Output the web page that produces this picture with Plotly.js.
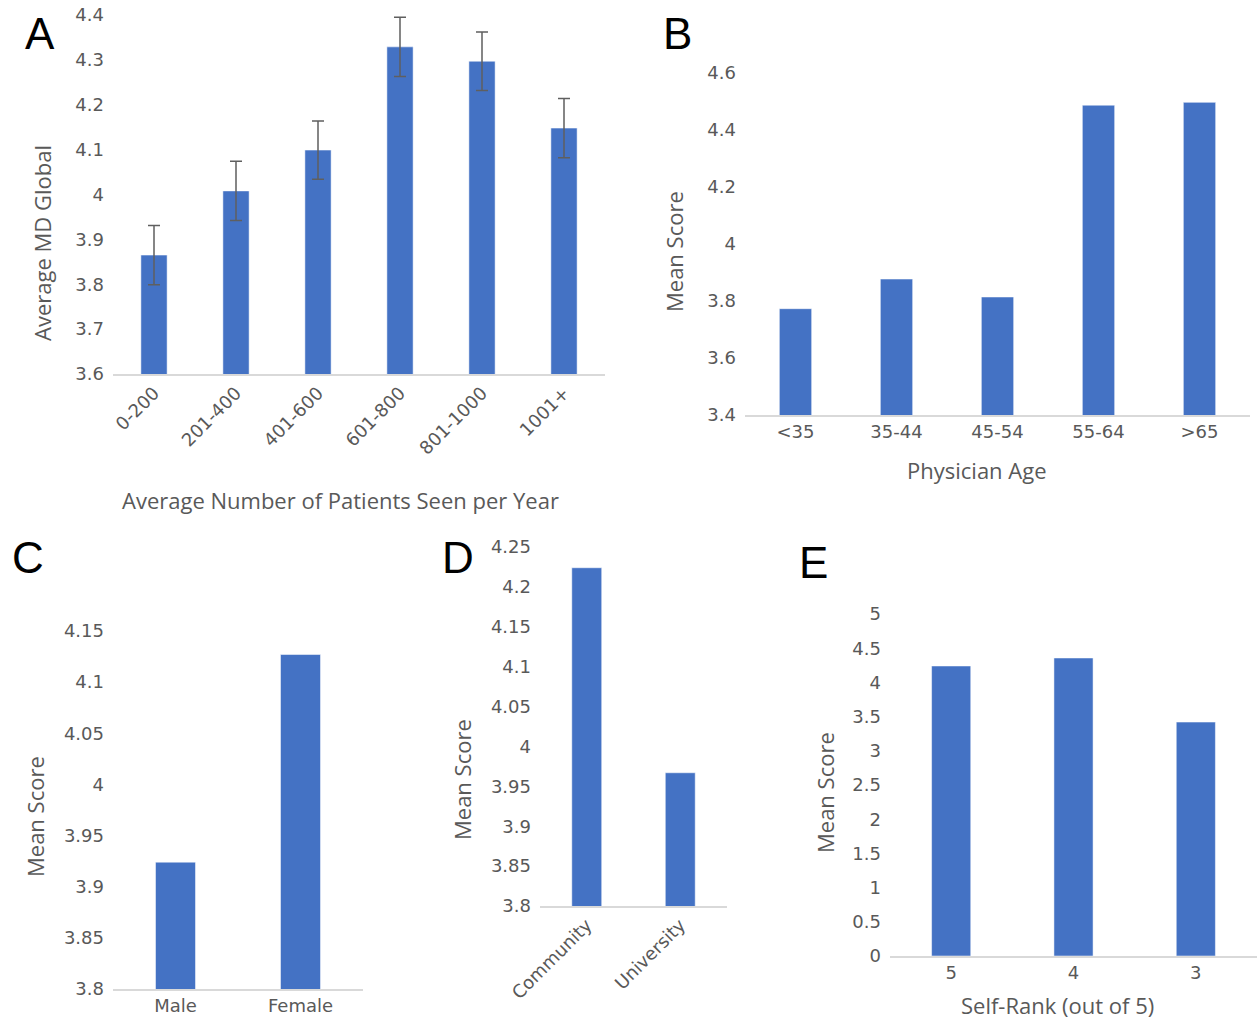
<!DOCTYPE html>
<html><head><meta charset="utf-8">
<script src="https://cdn.plot.ly/plotly-3.0.1.min.js"></script>
<style>html,body{margin:0;padding:0;background:#fff}#chart{width:1257px;height:1024px}</style>
</head><body><div id="chart"></div>
<script>
// Panel A
const patientsCategories = ["0-200", "201-400", "401-600", "601-800", "801-1000", "1001+"];
const patientsMeans = [3.865, 4.008, 4.099, 4.329, 4.297, 4.148];
const patientsErrors = [0.066, 0.066, 0.065, 0.066, 0.065, 0.066];
// Panel B
const ageCategories = ["<35", "35-44", "45-54", "55-64", ">65"];
const ageMeans = [3.773, 3.877, 3.814, 4.487, 4.497];
// Panel C
const genderCategories = ["Male", "Female"];
const genderMeans = [3.924, 4.127];
// Panel D
const practiceCategories = ["Community", "University"];
const practiceMeans = [4.224, 3.967];
// Panel E
const selfRankCategories = ["5", "4", "3"];
const selfRankMeans = [4.24, 4.357, 3.42];

const W = 1257, H = 1024;
const px = v => v / W;
const py = v => 1 - v / H;
const barColor = "#4472C4";
const tickFont = {family: "DejaVu Sans", size: 18, color: "#595959"};
const titleFont = {family: "Open Sans", size: 22, color: "#595959"};

function bar(x, y, xa, ya, err) {
  const t = {type: "bar", x: x, y: y, xaxis: xa, yaxis: ya,
    marker: {color: barColor, line: {color: "#ffffff", width: 0.5}}, showlegend: false};
  if (err) t.error_y = {type: "data", array: err, visible: true, color: "#5f5f5f", thickness: 1.5, width: 6};
  return t;
}

const data = [
  bar(patientsCategories, patientsMeans, "x", "y", patientsErrors),
  bar(ageCategories, ageMeans, "x2", "y2"),
  bar(genderCategories, genderMeans, "x3", "y3"),
  bar(practiceCategories, practiceMeans, "x4", "y4"),
  bar(selfRankCategories, selfRankMeans, "x5", "y5")
];

function xax(d, anchor, angle) {
  return {domain: d, anchor: anchor, type: "category", showline: true, linecolor: "#d9d9d9",
    linewidth: 1.5, ticks: "", showgrid: false, zeroline: false, tickfont: tickFont, tickangle: angle};
}
function yax(d, anchor, range, dtick) {
  return {domain: d, anchor: anchor, range: range, dtick: dtick, tick0: range[0], showline: false, ticks: "",
    showgrid: false, zeroline: false, tickfont: tickFont, ticklabelstandoff: 8};
}

// axis titles: [text, x, y, angle]
const axisTitles = [
  ["Average Number of Patients Seen per Year", 340, 500, 0],
  ["Average MD Global", 42, 243, -90],
  ["Physician Age", 977, 470, 0],
  ["Mean Score", 674, 252, -90],
  ["Mean Score", 35, 817, -90],
  ["Mean Score", 462, 780, -90],
  ["Self-Rank (out of 5)", 1057, 1005, 0],
  ["Mean Score", 825, 793, -90]
];
const panelLetters = [["A", 40, 33], ["B", 677, 33], ["C", 28, 557], ["D", 458, 557], ["E", 813, 562]];

const layout = {
  width: W, height: H, margin: {l: 0, r: 0, t: 0, b: 0},
  paper_bgcolor: "#fff", plot_bgcolor: "#fff", bargap: 0.68,
  font: {family: "DejaVu Sans", color: "#595959"},
  xaxis: xax([px(113), px(605)], "y", -45),
  yaxis: yax([py(374), py(15)], "x", [3.6, 4.4], 0.1),
  xaxis2: xax([px(745), px(1250)], "y2", 0),
  yaxis2: yax([py(415), py(73)], "x2", [3.4, 4.6], 0.2),
  xaxis3: xax([px(113), px(363)], "y3", 0),
  yaxis3: yax([py(989), py(631)], "x3", [3.8, 4.15], 0.05),
  xaxis4: xax([px(540), px(727)], "y4", -45),
  yaxis4: yax([py(906), py(547)], "x4", [3.8, 4.25], 0.05),
  xaxis5: xax([px(890), 1], "y5", 0),
  yaxis5: yax([py(956), py(614)], "x5", [0, 5], 0.5),
  annotations: axisTitles.map(a => ({text: a[0], x: px(a[1]), y: py(a[2]), xref: "paper", yref: "paper",
      showarrow: false, textangle: a[3], xanchor: "center", yanchor: "middle", borderpad: 0, font: titleFont}))
    .concat(panelLetters.map(a => ({text: a[0], x: px(a[1]), y: py(a[2]), xref: "paper", yref: "paper",
      showarrow: false, xanchor: "center", yanchor: "middle",
      font: {family: "Liberation Sans", size: 44, color: "#000"}})))
};

Plotly.newPlot("chart", data, layout, {displayModeBar: false, staticPlot: true});
</script></body></html>
